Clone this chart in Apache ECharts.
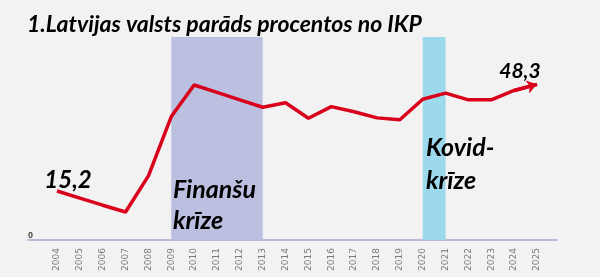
<!DOCTYPE html>
<html><head><meta charset="utf-8">
<script src="https://cdn.jsdelivr.net/npm/echarts@6/dist/echarts.min.js"></script>
<style>html,body{margin:0;padding:0;background:#F2F2F2}#c{width:600px;height:277px}</style>
</head><body><div id="c"></div>
<script>
const years = ['2004','2005','2006','2007','2008','2009','2010','2011','2012','2013','2014','2015','2016','2017','2018','2019','2020','2021','2022','2023','2024','2025'];
const debt = [15.2, 13.0, 10.8, 8.7, 19.9, 38.3, 48.1, 45.8, 43.5, 41.2, 42.6, 37.8, 41.4, 39.8, 37.9, 37.3, 43.7, 45.6, 43.5, 43.5, 46.4, 48.3];
const crises = [['2009','2013','#BBBFE0'], ['2020','2021','#9DD9EC']];
const titleText = '1.Latvijas valsts parāds procentos no IKP';
const yTicks = [0];
const FONT = 'Lato';
const chart = echarts.init(document.getElementById('c'));
const last = debt.length - 1;
const seriesData = debt.map((v, i) => i === 0
  ? { value: v, label: { show: true, fontSize: 24, offset: [11, 6] } }
  : i === last ? { value: v, label: { show: true, fontSize: 21, offset: [-17, 2] } } : v);
chart.setOption({
  backgroundColor: '#F2F2F2',
  animation: false,
  title: { text: titleText, left: 22, top: 8, textStyle: { fontFamily: FONT, fontStyle: 'italic', fontWeight: 'bold', fontSize: 23, color: '#000' } },
  grid: [
    { left: 57, right: 63, top: 37, bottom: 37 },
    { left: 28, right: 43, top: 37, bottom: 37 }
  ],
  xAxis: [
    { type: 'category', data: years, boundaryGap: false, gridIndex: 0,
      axisLine: { show: false }, axisTick: { show: false },
      axisLabel: { rotate: 90, fontSize: 9, color: '#7a7a7a', margin: 8, fontFamily: 'DejaVu Sans', interval: 0 } },
    { type: 'value', min: 0, max: 1, gridIndex: 1,
      axisLine: { show: true, onZero: false, lineStyle: { color: '#A8AACE', width: 1.5 } },
      axisTick: { show: false }, axisLabel: { show: false }, splitLine: { show: false } }
  ],
  yAxis: [
    { type: 'value', min: 0, max: 63, interval: 63, splitLine: { show: false }, gridIndex: 0,
      axisLine: { show: false }, axisTick: { show: false },
      axisLabel: { fontSize: 9, fontWeight: 'bold', color: '#404040', margin: 24, verticalAlign: 'bottom',
        formatter: v => yTicks.includes(v) ? String(v) : '' } },
    { type: 'value', gridIndex: 1, show: false }
  ],
  series: [{
    type: 'line', data: seriesData, xAxisIndex: 0, yAxisIndex: 0,
    symbol: 'circle', symbolSize: 0, showSymbol: true, z: 5,
    itemStyle: { color: '#D9001B' },
    lineStyle: { color: '#D9001B', width: 3.5 },
    label: { show: false, position: 'top', fontFamily: FONT, fontStyle: 'italic', fontWeight: 'bold', color: '#000',
      formatter: p => String(p.value).replace('.', ',') },
    markArea: { silent: true, z: 1, data: crises.map(c => [{ xAxis: c[0], itemStyle: { color: c[2] } }, { xAxis: c[1] }]) },
    markLine: { silent: true, symbol: ['none', 'arrow'], symbolSize: [10, 10], label: { show: false },
      lineStyle: { color: '#D9001B', width: 3.5, type: 'solid' },
      data: [[{ coord: [years[last - 1], debt[last - 1]] }, { coord: [years[last], debt[last]] }]] }
  }],
  graphic: [
    { type: 'text', left: 173, top: 174, z: 100, style: { text: 'Finanšu\nkrīze', font: 'italic bold 25px ' + FONT, fill: '#000', lineHeight: 31 } },
    { type: 'text', left: 426, top: 131, z: 100, style: { text: 'Kovid-\nkrīze', font: 'italic bold 25px ' + FONT, fill: '#000', lineHeight: 33 } }
  ]
});
</script></body></html>
